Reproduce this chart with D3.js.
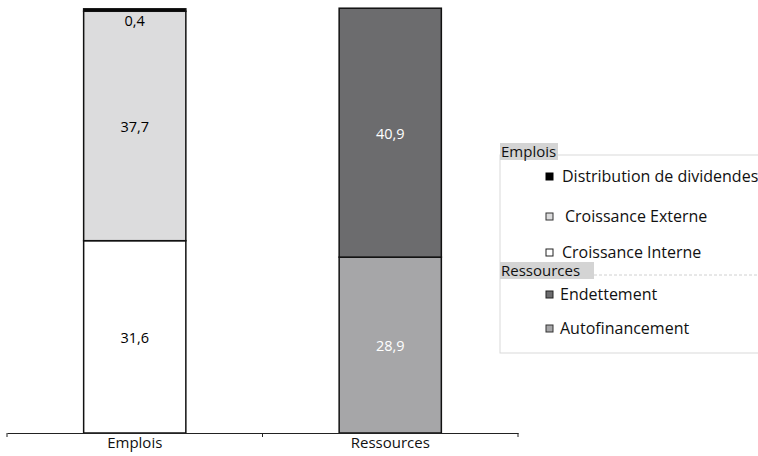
<!DOCTYPE html>
<html><head><meta charset="utf-8">
<script src="https://cdn.jsdelivr.net/npm/d3@7"></script>
<style>body{margin:0;background:#fff}svg{display:block;font-family:"Open Sans","DejaVu Sans",sans-serif}</style>
</head><body><svg id="c" width="758" height="456"></svg>
<script>
const categories = ["Emplois", "Ressources"];
const seriesNames = ["Croissance Interne", "Croissance Externe", "Distribution de dividendes", "Autofinancement", "Endettement"];
const croissanceInterne = [31.6, 0];
const croissanceExterne = [37.7, 0];
const dividendes = [0.4, 0];
const autofinancement = [0, 28.9];
const endettement = [0, 40.9];
const valueLabels = ["31,6", "37,7", "0,4", "28,9", "40,9"];
const colors = ["#ffffff", "#dcdcdd", "#000000", "#a6a6a8", "#6c6c6e"];
const labelColors = ["#000", "#000", "#000", "#fff", "#fff"];

const table = categories.map((c, i) => ({
  cat: c,
  "Croissance Interne": croissanceInterne[i],
  "Croissance Externe": croissanceExterne[i],
  "Distribution de dividendes": dividendes[i],
  "Autofinancement": autofinancement[i],
  "Endettement": endettement[i]
}));
const stacked = d3.stack().keys(seriesNames)(table);

const svg = d3.select("#c");
const x = d3.scaleBand().domain(categories).range([7, 518]).padding(0);
const y = d3.scaleLinear().domain([0, 70]).range([433, 7]);
const bw = x.bandwidth() * 0.4;

const g = svg.append("g");
stacked.forEach((s, si) => {
  s.forEach((d, ci) => {
    if (d[1] - d[0] <= 0) return;
    const bx = x(categories[ci]) + (x.bandwidth() - bw) / 2;
    g.append("rect")
      .attr("x", bx).attr("width", bw)
      .attr("y", y(d[1])).attr("height", y(d[0]) - y(d[1]))
      .attr("fill", colors[si]).attr("stroke", "#111").attr("stroke-width", 1.5);
  });
});
// value labels
stacked.forEach((s, si) => {
  s.forEach((d, ci) => {
    if (d[1] - d[0] <= 0) return;
    const cx = x(categories[ci]) + x.bandwidth() / 2;
    let ty = (y(d[0]) + y(d[1])) / 2 + 6;
    if (si === 2) ty = y(d[0]) + 15; // thin segment: label below, inside grey
    g.append("text").attr("x", cx).attr("y", ty).attr("text-anchor", "middle")
      .attr("font-size", 14.5).attr("fill", labelColors[si]).text(valueLabels[si]);
  });
});

// axis
const ax = svg.append("g").attr("transform", "translate(0,433)")
  .call(d3.axisBottom(x).tickSize(0).tickPadding(4));
ax.select(".domain").attr("stroke", "#222").attr("stroke-width", 1.2);
ax.selectAll("text").attr("font-size", 15).attr("fill", "#111").attr("font-family", "'Open Sans','DejaVu Sans',sans-serif");
const edges = categories.map(c => x(c)).concat([x.range()[1]]);
ax.selectAll(".edge").data(edges).enter().append("line")
  .attr("x1", d => d).attr("x2", d => d).attr("y1", 0).attr("y2", 4)
  .attr("stroke", "#222");

// legend
const lg = svg.append("g");
lg.append("rect").attr("x", 500).attr("y", 155).attr("width", 270).attr("height", 198)
  .attr("fill", "#fff").attr("stroke", "#d9d9d9");
lg.append("line").attr("x1", 594).attr("x2", 758).attr("y1", 275).attr("y2", 275)
  .attr("stroke", "#d0d0d0").attr("stroke-dasharray", "3,2");
lg.append("rect").attr("x", 500).attr("y", 143).attr("width", 58).attr("height", 17).attr("fill", "#d4d4d4");
lg.append("text").attr("x", 501).attr("y", 157).attr("font-size", 15).attr("fill", "#111").text("Emplois");
lg.append("rect").attr("x", 500).attr("y", 262).attr("width", 94).attr("height", 17).attr("fill", "#d4d4d4");
lg.append("text").attr("x", 501).attr("y", 276).attr("font-size", 15).attr("fill", "#111").text("Ressources");

const legendItems = [
  {i: 2, my: 173, tx: 562, ty: 182, stroke: "#000"},
  {i: 1, my: 213, tx: 565, ty: 222, stroke: "#333"},
  {i: 0, my: 249, tx: 562, ty: 258, stroke: "#222"},
  {i: 4, my: 291, tx: 560, ty: 300, stroke: "#222"},
  {i: 3, my: 325, tx: 560, ty: 334, stroke: "#333"}
];
legendItems.forEach(it => {
  lg.append("rect").attr("x", 546).attr("y", it.my).attr("width", 7).attr("height", 7)
    .attr("fill", colors[it.i]).attr("stroke", it.stroke).attr("stroke-width", 1);
  lg.append("text").attr("x", it.tx).attr("y", it.ty).attr("font-size", 16).attr("fill", "#111")
    .text(seriesNames[it.i]);
});
</script></body></html>
